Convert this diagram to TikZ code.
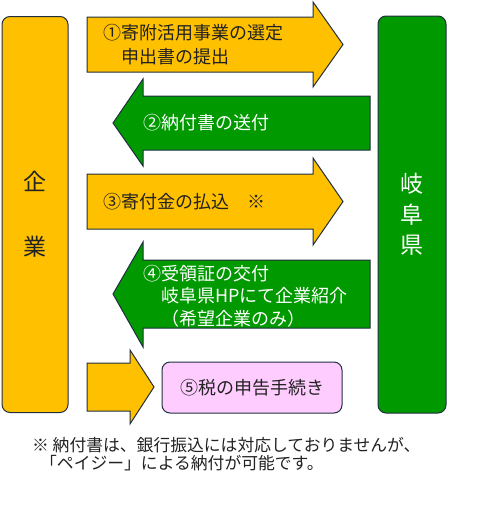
\documentclass[tikz,border=0pt]{standalone}
\usepackage{fontspec}
\setmainfont{Noto Sans CJK JP}
\definecolor{gold}{HTML}{FFC000}
\definecolor{leaf}{HTML}{009900}
\definecolor{rose}{HTML}{FFCCFF}
\definecolor{rim}{HTML}{1F2F3F}
\definecolor{ink}{HTML}{222222}
\begin{document}
\begin{tikzpicture}[x=1pt,y=-1pt,
    box/.style={draw=rim,line width=1pt,rounded corners=8pt},
    lbl/.style={font=\fontsize{18}{24}\selectfont,align=left,anchor=west,inner sep=0pt}]
    \useasboundingbox (0,0) rectangle (500,507);
    \foreach \a/\b/\c/\t/\u/\h/\k/\col in {87/313/343/17/72/2/87/gold,
        370/143/113/96/150/79/166/leaf,
        87/313/343/174/229/158/245/gold,
        370/143/113/260/328/242/347/leaf,
        87/130/154/363/411/350/424/gold}
        {\draw[draw=rim,line width=1pt,fill=\col] (\a,\t) -- (\b,\t) -- (\b,\h) -- (\c,{(\t+\u)/2})
            -- (\b,\k) -- (\b,\u) -- (\a,\u) -- cycle;
        }
    \node[box,fill=gold,minimum width=66,minimum height=396,text=ink,align=center,
        font=\fontsize{23}{32}\selectfont] (kigyo) at (35,214.5) {企\\[33pt]業};
    \node[box,fill=leaf,minimum width=68,minimum height=397,text=white,align=center,
        font=\fontsize{23}{30.5}\selectfont] (ken) at (412,214.5) {岐\\阜\\県};
    \node[box,fill=rose,minimum width=180,minimum height=51,text=ink,
        font=\fontsize{18}{24}\selectfont] (zei) at (252,387.5) {⑤税の申告手続き};
    \node[lbl,text=ink] (t1) at (103,45) {①寄附活用事業の選定\\　申出書の提出};
    \node[lbl,text=white] (t2) at (143,123) {②納付書の送付};
    \node[lbl,text=ink] (t3) at (103,202) {③寄付金の払込　※};
    \node[lbl,text=white,font=\fontsize{18}{22.5}\selectfont] (t4) at (143,296)
        {④受領証の交付\\　岐阜県HPにて企業紹介\\　（希望企業のみ）};
    \node[lbl,text=ink,font=\fontsize{16.8}{18.5}\selectfont] (note) at (32,454)
        {※ 納付書は、銀行振込には対応しておりませんが、\\\hspace*{8pt}「ペイジー」による納付が可能です。};
\end{tikzpicture}
\end{document}
